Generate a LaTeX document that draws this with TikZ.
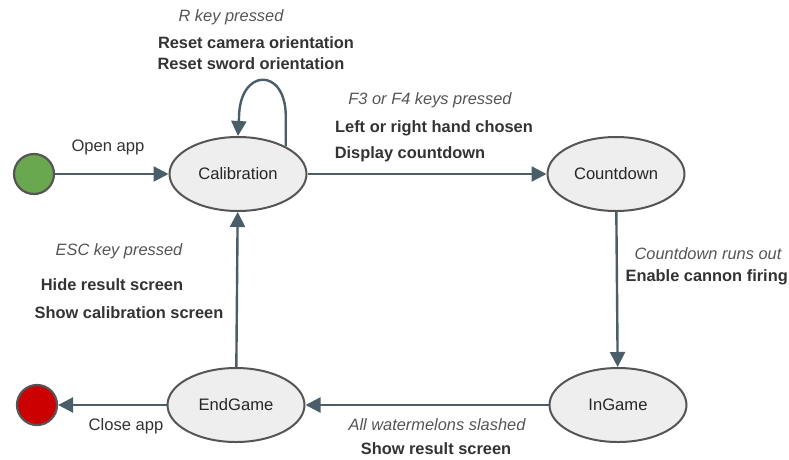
\documentclass[tikz,border=0pt]{standalone}
\usepackage{fontspec}
\setmainfont{Liberation Sans}
\usetikzlibrary{arrows.meta,shapes.geometric}
\definecolor{flowc}{HTML}{4A5E69}
\definecolor{edgec}{HTML}{555555}
\definecolor{statefill}{HTML}{EEEEEE}
\definecolor{startc}{HTML}{6AA84F}
\definecolor{stopc}{HTML}{CC0000}
\definecolor{txtc}{HTML}{333333}
\definecolor{trigc}{HTML}{555555}
\begin{document}
\begin{tikzpicture}[x=1pt,y=-1pt,
  every node/.style={font=\fontsize{16.6}{19}\selectfont},
  state/.style={ellipse,draw=edgec,line width=2pt,fill=statefill,
    minimum width=137pt,minimum height=74pt,inner sep=0pt,text=black!85},
  pseudo/.style={circle,draw=edgec,line width=2.2pt,minimum size=40pt,inner sep=0pt},
  flow/.style={draw=flowc,line width=2.4pt,
    -{Triangle[length=15pt,width=15pt]}},
  trig/.style={text=trigc,font=\fontsize{16.4}{19}\selectfont\itshape},
  act/.style={text=txtc,font=\fontsize{16.4}{19}\selectfont\bfseries},
  plain/.style={text=txtc}]
\useasboundingbox (0,0) rectangle (789,459);

% states
\node[pseudo,fill=startc] (start) at (34,174) {};
\node[state] (cal) at (238,174) {Calibration};
\node[state] (cd) at (616,174) {Countdown};
\node[state] (ing) at (618,405) {InGame};
\node[state] (end) at (236,405) {EndGame};
\node[pseudo,fill=stopc] (stop) at (37,405) {};

% transitions
\draw[flow] (start) -- (cal);
\draw[flow] (cal) -- (cd);
\draw[flow] (cd) -- (ing);
\draw[flow] (ing) -- (end);
\draw[flow] (end) -- (cal);
\draw[flow] (end) -- (stop);
\draw[flow] (cal.30) -- ++(0,-30) .. controls +(0,-50) and (239,68) .. (239,118) -- (cal.north);

% labels
\node[trig] (l1) at (231,17) {R key pressed};
\node[act] (l2) at (256,43) {Reset camera orientation};
\node[act] (l3) at (251,64) {Reset sword orientation};
\node[trig] (l4) at (430,100) {F3 or F4 keys pressed};
\node[act] (l5) at (434,128) {Left or right hand chosen};
\node[act] (l6) at (410,154) {Display countdown};
\node[plain] (l7) at (108,147) {Open app};
\node[trig] (l8) at (119,251) {ESC key pressed};
\node[act] (l9) at (112,285) {Hide result screen};
\node[act] (l10) at (129,313) {Show calibration screen};
\node[trig] (l11) at (708,254) {Countdown runs out};
\node[act,anchor=east,inner xsep=0pt] (l12) at (788,277) {Enable cannon firing};
\node[trig] (l13) at (437,425) {All watermelons slashed};
\node[act] (l14) at (436,449) {Show result screen};
\node[plain] (l15) at (126,426) {Close app};
\end{tikzpicture}
\end{document}
